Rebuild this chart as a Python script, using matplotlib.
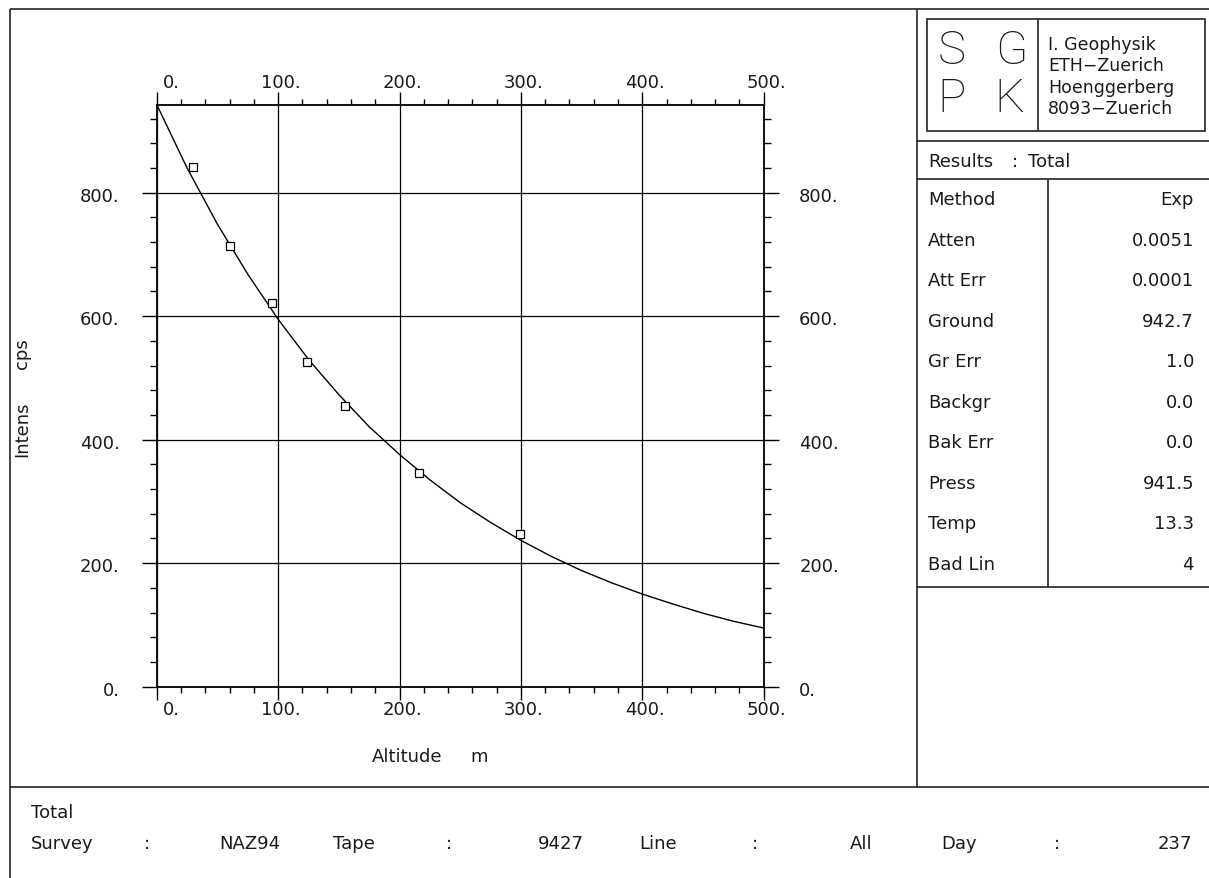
import numpy as np
import matplotlib
matplotlib.use("Agg")
import matplotlib.pyplot as plt
from matplotlib.transforms import blended_transform_factory, ScaledTranslation
from matplotlib.patches import Rectangle

# measured points (altitude m, intensity cps)
alt_pts = [30, 60, 95, 124, 155, 216, 299]
cps_pts = [842, 713, 621, 526, 454, 346, 248]

# fitted curve
alt_fit = [0, 25, 50, 75, 100, 125, 150, 175, 200, 225, 250, 275, 300,
           325, 350, 375, 400, 425, 450, 475, 500]
cps_fit = [942.7, 840, 749, 668, 595, 530, 473, 421, 376, 335, 298, 266, 237,
           211, 188, 168, 150, 134, 119, 106, 95]

x_major = [0, 100, 200, 300, 400, 500]
y_major = [0, 200, 400, 600, 800]
y_top = 942.7

# results table
res_names = ["Method", "Atten", "Att Err", "Ground", "Gr Err", "Backgr",
             "Bak Err", "Press", "Temp", "Bad Lin"]
res_values = ["Exp", "0.0051", "0.0001", "942.7", "1.0", "0.0", "0.0",
              "941.5", "13.3", "4"]

# footer info
info_keys = ["Survey", "Tape", "Line", "Day"]
info_vals = ["NAZ94", "9427", "All", "237"]

logo_lines = ["I. Geophysik", "ETH\u2212Zuerich", "Hoenggerberg", "8093\u2212Zuerich"]

plt.rcParams["text.color"] = "#1a1a1a"

W, H = 1209, 879
fig = plt.figure(figsize=(W / 100, H / 100), dpi=100)

# overlay in pixel coordinates for frame and text panels
ov = fig.add_axes([0, 0, 1, 1], zorder=0)
ov.set_xlim(0, W)
ov.set_ylim(H, 0)
ov.axis("off")

lc = "#222222"
lw = 1.2
def hline(y, x0, x1):
    ov.plot([x0, x1], [y, y], color=lc, lw=lw, solid_capstyle="butt")
def vline(x, y0, y1):
    ov.plot([x, x], [y0, y1], color=lc, lw=lw, solid_capstyle="butt")

hline(9.5, 9.5, W)
vline(9.5, 9.5, H)
vline(916.5, 9.5, 788)
hline(788, 9.5, W)
hline(141.5, 916.5, W)
hline(180, 916.5, W)
vline(1047.5, 180, 588)
hline(588, 916.5, W)

# logo box
ov.add_patch(Rectangle((927, 20), 278, 112, fill=False, ec=lc, lw=lw))
vline(1038, 20, 132)
for ch, (cx, cy) in zip("SGPK", [(952, 51), (1011, 51), (952, 99), (1009, 99)]):
    ov.text(cx, cy, ch, fontsize=34, family="Roboto", fontweight="light",
            ha="center", va="center")
for i, s in enumerate(logo_lines):
    ov.text(1048, 45 + i * 21.3, s, fontsize=12.5, ha="left", va="center")

fs = 13
ov.text(928, 162, "Results", fontsize=fs, ha="left", va="center")
ov.text(1012, 162, ":", fontsize=fs, ha="left", va="center")
ov.text(1028, 162, "Total", fontsize=fs, ha="left", va="center")

for i, (n, v) in enumerate(zip(res_names, res_values)):
    y = 200.5 + i * 40.5
    ov.text(928, y, n, fontsize=fs, ha="left", va="center")
    ov.text(1194, y, v, fontsize=fs, ha="right", va="center")

# footer
ov.text(31, 813, "Total", fontsize=fs, ha="left", va="center")
key_x = [31, 333, 639, 941]
val_x = [280, 584, 872, 1192]
for k, v, kx, vx in zip(info_keys, info_vals, key_x, val_x):
    ov.text(kx, 844, k, fontsize=fs, ha="left", va="center")
    ov.text(kx + 113, 844, ":", fontsize=fs, ha="left", va="center")
    ov.text(vx, 844, v, fontsize=fs, ha="right", va="center")

# axis titles
ov.text(372, 757, "Altitude", fontsize=fs, ha="left", va="center")
ov.text(470, 757, "m", fontsize=fs, ha="left", va="center")
ov.text(22, 429, "Intens", fontsize=fs, rotation=90, ha="center", va="center")
ov.text(22, 354, "cps", fontsize=fs, rotation=90, ha="center", va="center")

# main plot
x0, x1, yt, yb = 156.7, 763.7, 105.5, 687.7
ax = fig.add_axes([x0 / W, 1 - yb / H, (x1 - x0) / W, (yb - yt) / H], zorder=1)
ax.patch.set_alpha(0)
ax.set_xlim(0, 500)
ax.set_ylim(0, y_top)
ax.set_xticks(x_major)
ax.set_yticks(y_major)
ax.set_xticks(np.arange(0, 501, 20), minor=True)
ax.set_yticks(np.arange(0, 941, 40), minor=True)
ax.tick_params(axis="x", which="major", direction="out", length=9.4, width=1,
               top=True, bottom=True, labelbottom=False, labeltop=False)
ax.tick_params(axis="x", which="minor", direction="out", length=4.5, width=1,
               top=True, bottom=True)
ax.tick_params(axis="y", which="major", direction="out", length=10.8, width=1,
               left=True, right=True, labelleft=False, labelright=False)
ax.tick_params(axis="y", which="minor", direction="out", length=5, width=1,
               left=True, right=True)
for sp in ax.spines.values():
    sp.set_linewidth(1.4)
    sp.set_color("#111111")
ax.grid(True, which="major", color="black", lw=0.9)

ax.plot(alt_fit, cps_fit, color="black", lw=1.0, zorder=3)
ax.plot(alt_pts, cps_pts, ls="none", marker="s", ms=6, mfc="white",
        mec="black", mew=0.9, zorder=4)

# tick labels with the offsets of the original plotter
tx = blended_transform_factory(ax.transData, ax.transAxes)
ty = blended_transform_factory(ax.transAxes, ax.transData)
for v in x_major:
    ax.text(v, 1, f"{v}.", fontsize=fs, ha="right", va="baseline",
            transform=tx + ScaledTranslation(0.23, 0.18, fig.dpi_scale_trans))
    ax.text(v, 0, f"{v}.", fontsize=fs, ha="right", va="baseline",
            transform=tx + ScaledTranslation(0.23, -0.27, fig.dpi_scale_trans))
for v in y_major:
    ax.text(0, v, f"{v}.", fontsize=fs, ha="right", va="baseline",
            transform=ty + ScaledTranslation(-0.37, -0.08, fig.dpi_scale_trans))
    ax.text(1, v, f"{v}.", fontsize=fs, ha="left", va="baseline",
            transform=ty + ScaledTranslation(0.355, -0.08, fig.dpi_scale_trans))

fig.savefig("out.png", dpi=100)
